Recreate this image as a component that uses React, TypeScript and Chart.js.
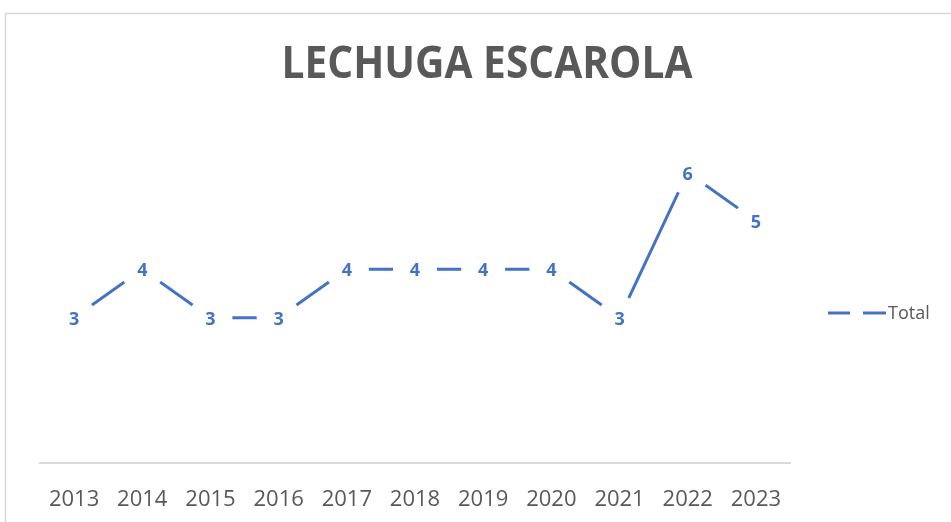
import React, { useEffect, useRef } from "react";
import { Chart, registerables } from "chart.js";

Chart.register(...registerables);

const categories = ["2013", "2014", "2015", "2016", "2017", "2018", "2019", "2020", "2021", "2022", "2023"];
const totalValues = [3, 4, 3, 3, 4, 4, 4, 4, 3, 6, 5];
const seriesName = "Total";
const chartTitle = "LECHUGA ESCAROLA";

const BLUE = "#4472C4";
const GREY = "#595959";

const decorPlugin = {
  id: "decor",
  beforeDraw(chart: any) {
    const ctx = chart.ctx;
    ctx.save();
    ctx.fillStyle = "#ffffff";
    ctx.fillRect(0, 0, chart.width, chart.height);
    ctx.strokeStyle = "#d9d9d9";
    ctx.lineWidth = 1.5;
    ctx.strokeRect(5.5, 13.5, chart.width + 10, chart.height + 10);
    // title
    ctx.fillStyle = GREY;
    ctx.font = "bold 45px 'Open Sans'";
    ctx.textAlign = "center";
    ctx.textBaseline = "alphabetic";
    ctx.fillText(chartTitle, 487, 78, 411);
    ctx.restore();
  },
  afterDraw(chart: any) {
    const ctx = chart.ctx;
    ctx.save();
    // data labels
    const meta = chart.getDatasetMeta(0);
    const data = chart.data.datasets[0].data;
    ctx.fillStyle = BLUE;
    ctx.font = "bold 18px 'Open Sans'";
    ctx.textAlign = "center";
    ctx.textBaseline = "middle";
    meta.data.forEach((pt: any, i: number) => {
      ctx.fillText(String(data[i]), pt.x, pt.y + 2);
    });
    // legend
    const ly = 313;
    ctx.strokeStyle = BLUE;
    ctx.lineWidth = 3;
    ctx.beginPath();
    ctx.moveTo(828, ly);
    ctx.lineTo(850, ly);
    ctx.moveTo(863, ly);
    ctx.lineTo(886, ly);
    ctx.stroke();
    ctx.fillStyle = GREY;
    ctx.font = "18px 'Open Sans'";
    ctx.textAlign = "left";
    ctx.fillText(seriesName, 888, ly + 1);
    ctx.restore();
  },
};

export default function App() {
  const ref = useRef<HTMLCanvasElement | null>(null);
  useEffect(() => {
    if (!ref.current) return;
    const chart = new Chart(ref.current, {
      type: "line",
      data: {
        labels: categories,
        datasets: [
          {
            label: seriesName,
            data: totalValues,
            borderColor: BLUE,
            borderWidth: 3,
            pointRadius: 22,
            pointBackgroundColor: "#ffffff",
            pointBorderWidth: 0,
            pointBorderColor: "#ffffff",
            tension: 0,
          },
        ],
      },
      options: {
        animation: false,
        responsive: false,
        maintainAspectRatio: false,
        layout: { padding: { left: 40, right: 161, top: 124, bottom: 0 } },
        plugins: {
          legend: { display: false },
          title: { display: false },
          tooltip: { enabled: false },
        },
        scales: {
          x: {
            offset: true,
            grid: { display: false, drawTicks: false },
            border: { display: true, color: "#d9d9d9", width: 2 },
            ticks: {
              color: GREY,
              font: { family: "'Open Sans'", size: 22 },
              padding: 24,
              maxRotation: 0,
              autoSkip: false,
            },
            afterFit(scale: any) {
              scale.height = 59;
            },
          },
          y: {
            display: false,
            min: 0,
            max: 7,
          },
        },
      },
      plugins: [decorPlugin],
    });
    return () => chart.destroy();
  }, []);
  return (
    <div style={{ position: "fixed", left: 0, top: 0, width: 951, height: 522 }}>
      <canvas ref={ref} width={951} height={522} style={{ display: "block" }} />
    </div>
  );
}
